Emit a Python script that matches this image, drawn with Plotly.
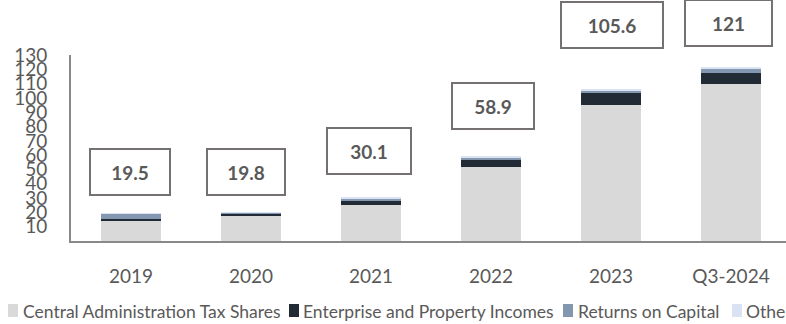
import plotly.graph_objects as go

# Revenue composition by year (stacked), totals shown in boxed labels
years = ["2019", "2020", "2021", "2022", "2023", "Q3-2024"]
tax_shares = [14.4, 18.0, 25.4, 52.0, 95.4, 109.4]
enterprise_property = [1.3, 1.3, 2.3, 5.2, 8.0, 7.9]
returns_capital = [3.4, 0.3, 2.0, 1.2, 1.8, 3.2]
other = [0.4, 0.2, 0.4, 0.5, 0.4, 0.5]

series_names = [
    "Central Administration Tax Shares",
    "Enterprise and Property Incomes",
    "Returns on Capital",
    "Other",
]
series_values = [tax_shares, enterprise_property, returns_capital, other]
series_colors = ["#d9d9d9", "#222a35", "#8497b0", "#dae3f3"]

totals = [round(sum(v), 1) for v in zip(*series_values)]

# Layout of the figure in pixels
W, H = 786, 324
M_L, M_R, M_T, M_B = 71, 0, 55, 83
PLOT_W = W - M_L - M_R
PLOT_H = H - M_T - M_B
Y_MAX = 130


def paper_x(px):
    return (px - M_L) / PLOT_W


def paper_y(py):
    return (H - M_B - py) / PLOT_H


# Boxed total labels: height (axis units), box width and horizontal nudge (px)
label_y = [47.9, 47.9, 62.9, 94.4, 151.0, 152.7]
label_w = [76, 74, 80, 78, 98, 83]
label_dx = [-1, -5, -2, 2, 1, -3]

FONT = "Lato, sans-serif"
GREY_TXT = "#595959"
AXIS_GREY = "#898989"

fig = go.Figure()
for name, vals, color in zip(series_names, series_values, series_colors):
    fig.add_trace(go.Bar(
        x=list(range(len(years))), y=vals, name=name,
        marker=dict(color=color, line=dict(width=0)),
        width=0.5, showlegend=False,
    ))

for i, t in enumerate(totals):
    fig.add_annotation(
        x=i, xref="x", y=label_y[i] / Y_MAX, yref="paper",
        text=f"<b>{t:g}</b>", showarrow=False,
        font=dict(family=FONT, size=19, color=GREY_TXT),
        bordercolor="#767171", borderwidth=2, borderpad=1,
        width=label_w[i], height=42, xshift=label_dx[i],
        bgcolor="white", yanchor="middle",
    )

# Legend row along the bottom: swatches and captions
legend_swatch_x = [8, 289, 563, 732]
legend_text_x = [21, 301, 576, 744]
LEG_Y_TOP, LEG_Y_BOT, LEG_Y_MID = 304, 317, 311
for name, color, sx, tx in zip(series_names, series_colors, legend_swatch_x, legend_text_x):
    fig.add_shape(
        type="rect", xref="paper", yref="paper",
        x0=paper_x(sx), x1=paper_x(sx + 10),
        y0=paper_y(LEG_Y_BOT), y1=paper_y(LEG_Y_TOP),
        fillcolor=color, line=dict(width=0),
    )
    fig.add_annotation(
        x=paper_x(tx), y=paper_y(LEG_Y_MID), xref="paper", yref="paper",
        xanchor="left", yanchor="middle", text=name, showarrow=False,
        font=dict(family=FONT, size=17.5, color=GREY_TXT),
    )

fig.update_layout(
    barmode="stack",
    width=W, height=H,
    margin=dict(l=M_L, r=M_R, t=M_T, b=M_B, autoexpand=False),
    paper_bgcolor="white", plot_bgcolor="white",
    font=dict(family=FONT, color=GREY_TXT),
    showlegend=False,
    xaxis=dict(
        tickmode="array", tickvals=list(range(len(years))), ticktext=years,
        range=[-0.5, -0.5 + PLOT_W / 120], showgrid=False, zeroline=False,
        showline=True, linecolor=AXIS_GREY, linewidth=2,
        ticks="", tickfont=dict(family=FONT, size=19, color=GREY_TXT),
        ticklabelstandoff=17,
    ),
    yaxis=dict(
        range=[0, Y_MAX], tickvals=list(range(10, Y_MAX + 10, 10)),
        showgrid=False, zeroline=False,
        showline=True, linecolor=AXIS_GREY, linewidth=2,
        ticks="", tickfont=dict(family=FONT, size=19, color=GREY_TXT),
        ticklabelstandoff=18,
    ),
)

fig.write_html("out.html")
